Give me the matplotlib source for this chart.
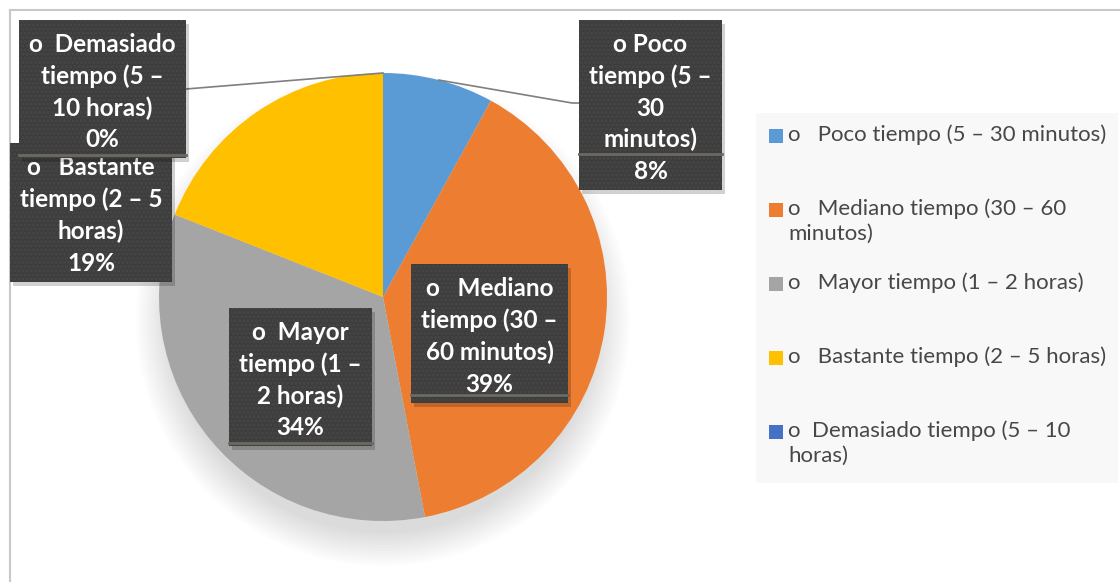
import numpy as np
import matplotlib.pyplot as plt
from matplotlib.patches import Rectangle, Circle

# ==========================================
# Datos
# ==========================================
categorias = [
    "o   Poco tiempo (5 – 30 minutos)",
    "o   Mediano tiempo (30 – 60\nminutos)",
    "o   Mayor tiempo (1 – 2 horas)",
    "o   Bastante tiempo (2 – 5 horas)",
    "o  Demasiado tiempo (5 – 10\nhoras)",
]
etiquetas = [
    "o Poco\ntiempo (5 –\n30\nminutos)",
    "o   Mediano\ntiempo (30 –\n60 minutos)",
    "o  Mayor\ntiempo (1 –\n2 horas)",
    "o   Bastante\ntiempo (2 – 5\nhoras)",
    "o  Demasiado\ntiempo (5 –\n10 horas)",
]
porcentajes = [8, 39, 34, 19, 0]
colores = ['#5B9BD5', '#ED7D31', '#A5A5A5', '#FFC000', '#4472C4']

# cajas de etiqueta (x0, y0, x1, y1) en pixeles, y hacia abajo
cajas = [
    (579, 20, 722, 190),
    (411, 264, 568, 403),
    (229, 308, 372, 446),
    (10, 143, 172, 282),
    (19, 20, 186, 158),
]
lineas_caja = [154, 395, 443, None, 155]

W, H = 1120, 582
def Y(y):
    return H - y

plt.rcParams['font.family'] = ['Lato', 'DejaVu Sans']
plt.rcParams['hatch.linewidth'] = 1.5

fig = plt.figure(figsize=(11.2, 5.82), dpi=100)
fig.patch.set_facecolor('white')
ax = fig.add_axes([0, 0, 1, 1])

cx, cy, r = 383, 297, 224

# sombra suave del pastel (hacia abajo)
for k in range(12):
    ax.add_patch(Circle((cx, Y(cy + 22)), r - 10 + k * 3, color='black',
                        alpha=0.010, lw=0, zorder=0))

wedges, _ = ax.pie(porcentajes, colors=colores, startangle=90, counterclock=False,
                   center=(cx, Y(cy)), radius=r,
                   wedgeprops=dict(linewidth=0))
for w in wedges:
    w.set_zorder(1)

ax.set_xlim(0, W)
ax.set_ylim(0, H)
ax.set_aspect('equal')
ax.axis('off')

# marco
ax.plot([10, W], [Y(10), Y(10)], color='#c8c8c8', lw=1.5, zorder=0.5)
ax.plot([10, 10], [Y(10), 0], color='#c8c8c8', lw=1.5, zorder=0.5)

# lineas guia (Poco y Demasiado)
def punto_medio(w):
    t = np.deg2rad((w.theta1 + w.theta2) / 2)
    return w.center[0] + w.r * np.cos(t), w.center[1] + w.r * np.sin(t)

px, py = punto_medio(wedges[0])
ax.plot([px, 572, 579], [py, Y(103), Y(103)], color='#7f7f7f', lw=1.2, zorder=2)
px, py = punto_medio(wedges[4])
ax.plot([px, 186], [py, Y(89)], color='#7f7f7f', lw=1.2, zorder=2)

# etiquetas de datos
orden = [3, 4, 0, 1, 2]
for i in orden:
    x0, y0, x1, y1 = cajas[i]
    z = 3 + orden.index(i)
    ax.add_patch(Rectangle((x0 + 3, Y(y1 + 4)), x1 - x0, y1 - y0,
                           facecolor='black', alpha=0.18, lw=0, zorder=z))
    ax.add_patch(Rectangle((x0, Y(y1)), x1 - x0, y1 - y0,
                           facecolor='#3d3d3d', edgecolor='#474747', hatch='....',
                           lw=0, zorder=z))
    if lineas_caja[i] is not None:
        ax.plot([x0, x1], [Y(lineas_caja[i]), Y(lineas_caja[i])],
                color='#6d6862', lw=2, zorder=z)
    texto = etiquetas[i] + "\n" + f"{porcentajes[i]}%"
    ax.text((x0 + x1) / 2, Y((y0 + y1) / 2 + 3), texto, color='white',
            fontsize=17.5, fontweight='bold', ha='center', va='center',
            multialignment='center', linespacing=1.43, zorder=z)

# leyenda
ax.add_patch(Rectangle((756, Y(483)), 362, 370, facecolor='#f8f8f8', lw=0, zorder=0.5))
for i, cat in enumerate(categorias):
    yy = 136 + 74 * i
    ax.add_patch(Rectangle((769, Y(yy + 7)), 14, 14, facecolor=colores[i], lw=0, zorder=2))
    ax.text(788, Y(yy - 12), cat, color='#474747', fontsize=16,
            ha='left', va='top', linespacing=1.32, zorder=2)

fig.savefig('out.png', dpi=100, facecolor='white')
